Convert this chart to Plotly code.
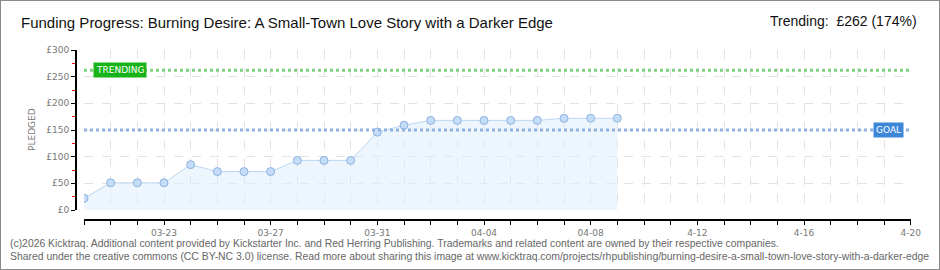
import plotly.graph_objects as go
import pandas as pd

dates = pd.date_range("2026-03-20", "2026-04-09", freq="D").strftime("%Y-%m-%d").tolist()
pledged = [22, 51, 51, 51, 85, 72, 72, 72, 93, 93, 93, 146, 159, 168, 168, 168, 168, 168, 172, 172, 172]
goal = 150
trending = 262
x_start, x_end = "2026-03-20", "2026-04-20"
tick_days = pd.date_range(x_start, x_end, freq="D")
tick_vals = tick_days.strftime("%Y-%m-%d").tolist()
label_days = ["2026-03-23", "2026-03-27", "2026-03-31", "2026-04-04", "2026-04-08",
              "2026-04-12", "2026-04-16", "2026-04-20"]
label_text = ["03-23", "03-27", "03-31", "04-04", "04-08", "4-12", "4-16", "4-20"]
tick_text = [label_text[label_days.index(d)] if d in label_days else "" for d in tick_vals]
y_ticks = [0, 50, 100, 150, 200, 250, 300]
y_labels = ["£0", "£50", "£100", "£150", "£200", "£250", "£300"]

title = "Funding Progress: Burning Desire: A Small-Town Love Story with a Darker Edge"
trend_text = "Trending:  £262 (174%)"
footer1 = ("(c)2026 Kicktraq. Additional content provided by Kickstarter Inc. and Red Herring Publishing. "
           "Trademarks and related content are owned by their respective companies.")
footer2 = ("Shared under the creative commons (CC BY-NC 3.0) license. Read more about sharing this image at "
           "www.kicktraq.com/projects/rhpublishing/burning-desire-a-small-town-love-story-with-a-darker-edge")

W, H = 940, 270
xd = [84 / W, 910.7 / W]
yd = [(H - 210) / H, (H - 50) / H]
tickfont = dict(family="DejaVu Sans", size=9, color="#777")

fig = go.Figure()
fig.add_trace(go.Scatter(
    x=dates, y=pledged, mode="lines+markers", fill="tozeroy",
    fillcolor="rgba(222,236,252,0.55)",
    line=dict(color="#bcd6f2", width=1),
    marker=dict(size=8, color="#c4ddf8", line=dict(color="#8fb1dc", width=1)),
    hoverinfo="skip", showlegend=False))
fig.add_trace(go.Scatter(x=[x_start, x_end], y=[goal, goal], mode="lines",
                         line=dict(color="#90b2de", width=3, dash="dot"),
                         hoverinfo="skip", showlegend=False))
fig.add_trace(go.Scatter(x=[x_start, x_end], y=[trending, trending], mode="lines",
                         line=dict(color="#7fd07f", width=3, dash="dot"),
                         hoverinfo="skip", showlegend=False))
fig.add_trace(go.Scatter(x=[x_start], y=[0], xaxis="x2", yaxis="y", mode="none",
                         hoverinfo="skip", showlegend=False))
fig.add_trace(go.Scatter(x=[x_start], y=[0], xaxis="x", yaxis="y2", mode="none",
                         hoverinfo="skip", showlegend=False))

fig.update_layout(
    width=W, height=H, margin=dict(l=0, r=0, t=0, b=0, autoexpand=False),
    paper_bgcolor="white", plot_bgcolor="white",
    xaxis=dict(domain=xd, range=[x_start, x_end], type="date",
               tickvals=tick_vals, showticklabels=False, ticks="",
               showgrid=True, gridcolor="#e2e2e2", griddash="dash", gridwidth=1,
               showline=False, zeroline=False, fixedrange=True),
    yaxis=dict(domain=yd, range=[0, 300], tickvals=y_ticks, showticklabels=False,
               showgrid=True, gridcolor="#e2e2e2", griddash="dash", gridwidth=1,
               showline=False, zeroline=False, fixedrange=True),
    xaxis2=dict(overlaying="x", anchor="free", position=(H - 220) / H, domain=xd,
                range=[x_start, x_end], type="date",
                tickvals=tick_vals, ticktext=tick_text, tickfont=tickfont,
                ticks="outside", ticklen=4, tickcolor="black", tickwidth=1,
                showline=True, linecolor="black", linewidth=2,
                showgrid=False, zeroline=False, fixedrange=True),
    yaxis2=dict(overlaying="y", anchor="free", position=76 / W, domain=yd,
                range=[0, 300], tickvals=y_ticks, ticktext=y_labels, tickfont=tickfont,
                ticks="outside", ticklen=4, tickcolor="black", tickwidth=1,
                minor=dict(dtick=25, tick0=0, ticks="outside", ticklen=3,
                           tickcolor="red", tickwidth=1, showgrid=False),
                showline=True, linecolor="black", linewidth=2,
                showgrid=False, zeroline=False, fixedrange=True),
    shapes=[dict(type="rect", xref="paper", yref="paper", x0=0, y0=0, x1=1, y1=1,
                 line=dict(color="#8a8a8a", width=2), fillcolor="rgba(0,0,0,0)")],
    annotations=[
        dict(text=title, xref="paper", yref="paper", x=19 / W, y=(H - 22) / H,
             xanchor="left", yanchor="middle", showarrow=False,
             font=dict(family="Liberation Sans", size=15, color="#111")),
        dict(text=trend_text, xref="paper", yref="paper", x=919 / W, y=(H - 21) / H,
             xanchor="right", yanchor="middle", showarrow=False,
             font=dict(family="Liberation Sans", size=14, color="#111")),
        dict(text="PLEDGED", xref="paper", yref="paper", x=32 / W, y=(H - 130) / H,
             textangle=-90, showarrow=False, xanchor="center", yanchor="middle",
             font=dict(family="DejaVu Sans", size=9, color="#777")),
        dict(text="TRENDING", xref="x domain", yref="y", x=0.044, y=trending,
             showarrow=False, xanchor="center", yanchor="middle",
             bgcolor="#17b317", borderpad=2,
             font=dict(family="DejaVu Sans", size=9, color="white")),
        dict(text="GOAL", xref="x domain", yref="y", x=0.9726, y=goal,
             showarrow=False, xanchor="center", yanchor="middle",
             bgcolor="#3d87d8", borderpad=2,
             font=dict(family="DejaVu Sans", size=9, color="white")),
        dict(text=footer1, xref="paper", yref="paper", x=8 / W, y=(H - 243) / H,
             xanchor="left", yanchor="middle", showarrow=False,
             font=dict(family="Liberation Sans", size=10.4, color="#666")),
        dict(text=footer2, xref="paper", yref="paper", x=8 / W, y=(H - 256) / H,
             xanchor="left", yanchor="middle", showarrow=False,
             font=dict(family="Liberation Sans", size=10.4, color="#666")),
    ],
)

fig.write_html("out.html",
               post_script="document.body.style.margin='0';document.body.style.overflow='hidden';")
